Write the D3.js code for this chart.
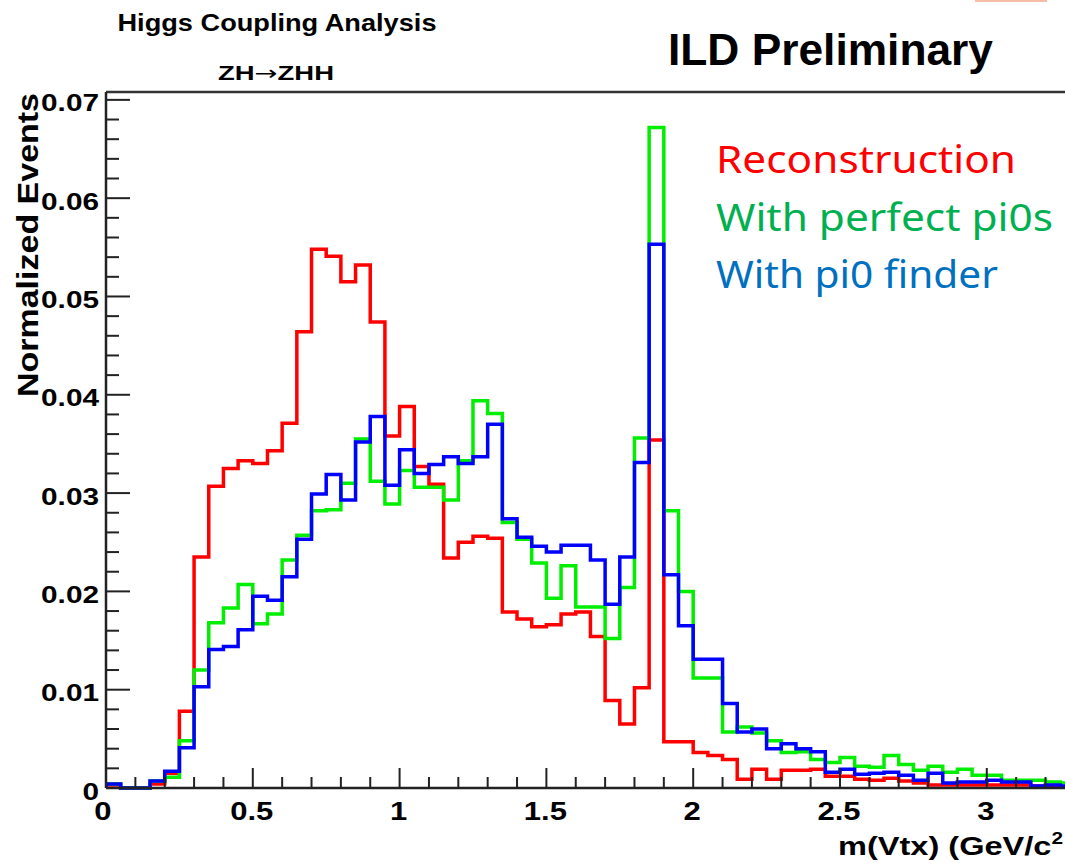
<!DOCTYPE html>
<html><head><meta charset="utf-8">
<script src="https://cdn.jsdelivr.net/npm/d3@7"></script>
<style>body{margin:0;background:#fff}svg{display:block}</style>
</head><body>
<script>
// ---- data (bin low edges, width 0.05) ----
const binWidth = 0.05;
const binEdges = d3.range(0, 66).map(i => +(i * 0.05).toFixed(2));
const reconstruction = [0.0003,0,0,0.0004,0.0015,0.0078,0.0235,0.0307,0.0325,0.0333,0.0330,0.0343,0.0371,0.0464,0.0548,0.0541,0.0515,0.0532,0.0474,0.0358,0.0388,0.0327,0.0309,0.0234,0.0250,0.0256,0.0254,0.0179,0.0172,0.0164,0.0166,0.0177,0.0179,0.0154,0.0089,0.0065,0.0102,0.0354,0.0047,0.0047,0.0036,0.0033,0.0029,0.0009,0.0019,0.0009,0.0018,0.0018,0.0019,0.0012,0.0012,0.0009,0.0008,0.0010,0.0007,0.0005,0.0003,0.0003,0.0003,0.0003,0.0003,0.0003,0.0003,0.0002,0.0001,0.0001];
const perfectPi0 = [0.0004,0,0,0.0007,0.0011,0.0048,0.0120,0.0168,0.0183,0.0207,0.0167,0.0177,0.0232,0.0257,0.0282,0.0283,0.0310,0.0355,0.0312,0.0289,0.0323,0.0306,0.0306,0.0293,0.0333,0.0394,0.0381,0.0270,0.0253,0.0229,0.0193,0.0226,0.0184,0.0184,0.0152,0.0204,0.0356,0.0672,0.0282,0.0200,0.0112,0.0112,0.0057,0.0062,0.0056,0.0048,0.0036,0.0037,0.0029,0.0026,0.0031,0.0022,0.0021,0.0033,0.0024,0.0018,0.0022,0.0016,0.0019,0.0013,0.0013,0.0008,0.0008,0.0008,0.0006,0.0005];
const pi0Finder = [0.0004,0,0,0.0007,0.0017,0.0041,0.0103,0.0141,0.0144,0.0161,0.0195,0.0191,0.0215,0.0253,0.0299,0.0319,0.0293,0.0352,0.0378,0.0308,0.0344,0.0320,0.0329,0.0337,0.0330,0.0337,0.0370,0.0274,0.0255,0.0246,0.0240,0.0247,0.0247,0.0232,0.0187,0.0235,0.0331,0.0553,0.0217,0.0165,0.0131,0.0131,0.0086,0.0057,0.0060,0.0040,0.0045,0.0040,0.0037,0.0016,0.0019,0.0014,0.0015,0.0016,0.0013,0.0008,0.0015,0.0005,0.0006,0.0006,0.0008,0.0006,0.0006,0.0002,0.0003,0.0002];
const xTicks = [0, 0.5, 1, 1.5, 2, 2.5, 3];
const xTickLabels = ["0", "0.5", "1", "1.5", "2", "2.5", "3"];
const yTicks = [0, 0.01, 0.02, 0.03, 0.04, 0.05, 0.06, 0.07];
const yTickLabels = ["0", "0.01", "0.02", "0.03", "0.04", "0.05", "0.06", "0.07"];
const seriesNames = ["Reconstruction", "With perfect pi0s", "With pi0 finder"];
const seriesData = [reconstruction, perfectPi0, pi0Finder];
const lineColors = ["#ff0000", "#00ee00", "#0000ff"];
const legendColors = ["#ff0000", "#00b050", "#0070c0"];

// ---- layout ----
const W = 1065, H = 863;
const L = 106, R = 1065, T = 92, B = 788;
const FONT = "'Liberation Sans', Arial, Helvetica, sans-serif";
const STRETCH = 1.24;

const svg = d3.select("body").append("svg").attr("width", W).attr("height", H);

const x = d3.scaleLinear().domain([0, 3.2664]).range([L, R]);
const y = d3.scaleLinear().domain([0, 0.0708]).range([B, T]);

svg.append("clipPath").attr("id", "clip").append("rect")
  .attr("x", L).attr("y", T).attr("width", R - L).attr("height", B - T + 2);

// histograms
const g = svg.append("g").attr("clip-path", "url(#clip)");
seriesData.forEach((vals, si) => {
  const p = d3.path();
  p.moveTo(x(0), y(0));
  vals.forEach((v, i) => {
    p.lineTo(x(binEdges[i]), y(v));
    p.lineTo(x(binEdges[i] + binWidth), y(v));
  });
  p.lineTo(x(binEdges[vals.length - 1] + binWidth), y(0));
  g.append("path").attr("d", p.toString()).attr("fill", "none")
    .attr("stroke", lineColors[si]).attr("stroke-width", 3.5)
    .attr("stroke-linejoin", "miter");
});

// frame lines
svg.append("line").attr("x1", L).attr("x2", R).attr("y1", T).attr("y2", T)
  .attr("stroke", "#333").attr("stroke-width", 2.5);
// x axis ticks
const xMinor = d3.range(0, 3.3, 0.1).map(v => +v.toFixed(2));
svg.append("g").selectAll("line").data(xMinor).join("line")
  .attr("x1", d => x(d)).attr("x2", d => x(d))
  .attr("y1", B).attr("y2", d => (Math.abs(d * 2 - Math.round(d * 2)) < 1e-6) ? B - 20 : B - 11)
  .attr("stroke", "#222").attr("stroke-width", 2);
svg.append("line").attr("x1", L).attr("x2", R).attr("y1", B).attr("y2", B)
  .attr("stroke", "#222").attr("stroke-width", 2.5);
// y axis ticks
const yMinor = d3.range(0, 71).map(i => i * 0.001).filter((d, i) => i % 2 === 0);
svg.append("g").selectAll("line").data(yMinor).join("line")
  .attr("x1", L).attr("x2", (d, i) => (i % 5 === 0) ? L + 24 : L + 13)
  .attr("y1", d => y(d)).attr("y2", d => y(d))
  .attr("stroke", "#222").attr("stroke-width", 2);
svg.append("line").attr("x1", L).attr("x2", L).attr("y1", T).attr("y2", B)
  .attr("stroke", "#222").attr("stroke-width", 2.5);

function stretchText(sel, factor) {
  sel.each(function () {
    const w = this.getComputedTextLength();
    d3.select(this).attr("textLength", w * factor).attr("lengthAdjust", "spacingAndGlyphs");
  });
}

// y tick labels
svg.append("g").selectAll("text").data(yTicks).join("text")
  .attr("x", 99).attr("y", d => y(d) + 11.5)
  .attr("text-anchor", "end").attr("font-family", FONT).attr("font-weight", "bold")
  .attr("font-size", 24).attr("fill", "#000")
  .text((d, i) => yTickLabels[i])
  .call(stretchText, STRETCH);

// x tick labels
svg.append("g").selectAll("text").data(xTicks).join("text")
  .attr("x", (d) => d === 0 ? x(d) - 3 : x(d) - 1).attr("y", 820)
  .attr("text-anchor", "middle").attr("font-family", FONT).attr("font-weight", "bold")
  .attr("font-size", 25).attr("fill", "#000")
  .text((d, i) => xTickLabels[i])
  .call(stretchText, STRETCH);

// axis titles
const xt = svg.append("text").attr("x", 838).attr("y", 855)
  .attr("font-family", FONT).attr("font-weight", "bold").attr("font-size", 25).attr("fill", "#000");
xt.append("tspan").text("m(Vtx) (GeV/c");
xt.append("tspan").attr("font-size", 16).attr("dy", -11).text("2");
xt.attr("textLength", 225).attr("lengthAdjust", "spacingAndGlyphs");

svg.append("text").attr("transform", "translate(38,397) rotate(-90)")
  .attr("font-family", FONT).attr("font-weight", "bold").attr("font-size", 30)
  .attr("fill", "#000").attr("textLength", 304).attr("lengthAdjust", "spacingAndGlyphs")
  .text("Normalized Events");

// titles
svg.append("text").attr("x", 277).attr("y", 31).attr("text-anchor", "middle")
  .attr("font-family", FONT).attr("font-weight", "bold").attr("font-size", 24)
  .attr("textLength", 319).attr("lengthAdjust", "spacingAndGlyphs")
  .text("Higgs Coupling Analysis");
const zt = svg.append("text").attr("x", 276).attr("y", 80).attr("text-anchor", "middle")
  .attr("font-family", FONT).attr("font-weight", "bold").attr("font-size", 20)
  .attr("textLength", 116).attr("lengthAdjust", "spacingAndGlyphs");
zt.append("tspan").text("ZH");
zt.append("tspan").attr("font-family", "'DejaVu Sans', sans-serif").attr("font-weight", "normal").text("\u2192");
zt.append("tspan").text("ZHH");
svg.append("text").attr("x", 668).attr("y", 65)
  .attr("font-family", FONT).attr("font-weight", "bold").attr("font-size", 44)
  .attr("textLength", 325).attr("lengthAdjust", "spacingAndGlyphs")
  .text("ILD Preliminary");

// legend
const legendY = [173, 231, 288];
const legendW = [300, 337, 282];
svg.append("g").selectAll("text").data(seriesNames).join("text")
  .attr("x", 716).attr("y", (d, i) => legendY[i])
  .attr("font-family", "'Noto Sans', 'DejaVu Sans', sans-serif").attr("font-size", 39)
  .attr("fill", (d, i) => legendColors[i])
  .attr("textLength", (d, i) => legendW[i]).attr("lengthAdjust", "spacingAndGlyphs")
  .text(d => d);

// small orange fragment at the top-right edge
svg.append("rect").attr("x", 975).attr("y", 0).attr("width", 72).attr("height", 2).attr("fill", "#f8bda6");
</script>
</body></html>
